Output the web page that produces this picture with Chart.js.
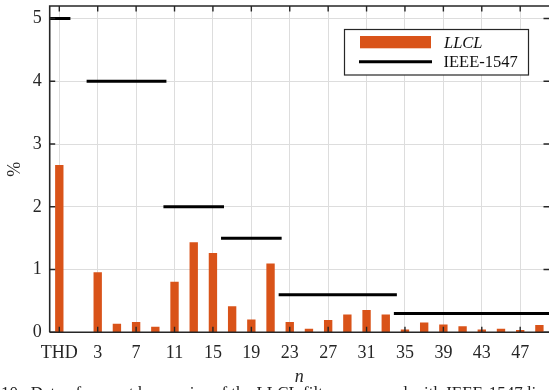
<!DOCTYPE html>
<html><head><meta charset="utf-8">
<script src="https://cdn.jsdelivr.net/npm/chart.js@4.4.1/dist/chart.umd.min.js"></script>
<style>
html,body{margin:0;padding:0;background:#fff;overflow:hidden}
#wrap{position:relative;width:549px;height:390px}
</style></head>
<body><div id="wrap"><canvas id="c" width="549" height="390"></canvas></div>
<script>
// ---- data ----
const seriesName = 'LLCL';
const limitName = 'IEEE-1547';
const thdLabel = 'THD';
const thdPosition = -1;
const thdValue = 2.66;
const harmonicOrders = [3,5,7,9,11,13,15,17,19,21,23,25,27,29,31,33,35,37,39,41,43,45,47,49];
const llclValues = [0.95,0.13,0.16,0.085,0.80,1.43,1.26,0.41,0.20,1.09,0.16,0.05,0.19,0.28,0.35,0.28,0.04,0.15,0.12,0.09,0.04,0.05,0.03,0.11];
const limitLevels = [5,4,2,1.5,0.6,0.3];
const limitFrom = [-2,2,10,16,22,34];
const limitTo = [0,10,16,22,34,50];
const xTickValues = [-1,3,7,11,15,19,23,27,31,35,39,43,47];
const yTickValues = [0,1,2,3,4,5];
const xTitle = 'n';
const yTitle = '%';
const caption = '10.  Data of current harmonics of the LLCL filter compared with IEEE-1547 limits';

// ---- build ----
const barPoints = [{x: thdPosition, y: thdValue}].concat(harmonicOrders.map((h, i) => ({x: h, y: llclValues[i]})));
const limitPoints = [];
limitLevels.forEach((lv, i) => {
  limitPoints.push({x: limitFrom[i], y: lv});
  limitPoints.push({x: limitTo[i], y: lv});
  limitPoints.push({x: limitTo[i], y: null});
});

const FONT = "'Liberation Serif','Times New Roman',serif";
const ORANGE = '#D95319';
const AX = '#262626';

const framePlugin = {
  id: 'frame',
  afterDraw(chart) {
    const {ctx, chartArea: a, scales} = chart;
    const xs = scales.x, ys = scales.y;
    ctx.save();
    ctx.strokeStyle = AX;
    ctx.lineWidth = 1.6;
    ctx.beginPath();
    ctx.moveTo(a.left, a.bottom); ctx.lineTo(a.right + 2, a.bottom);
    ctx.moveTo(a.left, a.bottom); ctx.lineTo(a.left, a.top);
    ctx.lineTo(a.right + 2, a.top);
    ctx.stroke();
    const tl = 5.5;
    ctx.lineWidth = 1.4;
    ctx.beginPath();
    xTickValues.forEach(v => {
      const px = xs.getPixelForValue(v);
      ctx.moveTo(px, a.bottom); ctx.lineTo(px, a.bottom - tl);
      ctx.moveTo(px, a.top); ctx.lineTo(px, a.top + tl);
    });
    yTickValues.forEach(v => {
      const py = ys.getPixelForValue(v);
      ctx.moveTo(a.left, py); ctx.lineTo(a.left + tl, py);
      ctx.moveTo(a.right, py); ctx.lineTo(a.right - tl, py);
    });
    ctx.stroke();

    // legend
    const lx = 344.5, ly = 29.5, lw = 184, lh = 45.5;
    ctx.fillStyle = '#fff';
    ctx.fillRect(lx, ly, lw, lh);
    ctx.lineWidth = 1.2;
    ctx.strokeStyle = AX;
    ctx.strokeRect(lx, ly, lw, lh);
    ctx.fillStyle = ORANGE;
    ctx.fillRect(360, 36, 71, 12.3);
    ctx.strokeStyle = '#000';
    ctx.lineWidth = 3;
    ctx.beginPath(); ctx.moveTo(359, 61.7); ctx.lineTo(432, 61.7); ctx.stroke();
    ctx.fillStyle = '#111';
    ctx.textBaseline = 'alphabetic';
    ctx.textAlign = 'left';
    ctx.font = "italic 16.5px " + FONT;
    ctx.fillText(seriesName, 444, 47.5);
    ctx.font = "16.5px " + FONT;
    ctx.fillText(limitName, 443.5, 67);

    // partially visible caption
    ctx.font = "17px " + FONT;
    ctx.fillStyle = '#222';
    ctx.fillText(caption, 1, 398);
    ctx.restore();
  }
};

new Chart(document.getElementById('c'), {
  data: {
    datasets: [
      {
        type: 'line', label: limitName, data: limitPoints,
        borderColor: '#000', borderWidth: 3, pointRadius: 0, borderCapStyle: 'square',
        spanGaps: false, order: 0, tension: 0
      },
      {
        type: 'bar', label: seriesName, data: barPoints,
        backgroundColor: ORANGE, borderWidth: 0, barThickness: 7.7, grouped: false, order: 1
      }
    ]
  },
  options: {
    responsive: false, animation: false, devicePixelRatio: 1,
    layout: {padding: {left: 0, right: 0, top: 6, bottom: 0}},
    plugins: {legend: {display: false}, tooltip: {enabled: false}},
    scales: {
      x: {
        type: 'linear', position: 'bottom', min: -2, max: 50, offset: false,
        afterBuildTicks: s => { s.ticks = xTickValues.map(v => ({value: v})); },
        afterFit: s => { s.height = 57.7; s.paddingLeft = 0; s.paddingRight = 0; },
        grid: {color: '#dddddd', lineWidth: 1, drawTicks: false, offset: false},
        border: {display: false},
        ticks: {
          autoSkip: false, maxRotation: 0, padding: 10, color: AX,
          font: {family: FONT, size: 18},
          callback: v => v === thdPosition ? thdLabel : String(v)
        },
        title: {display: true, text: xTitle, color: AX, font: {family: FONT, size: 18, style: 'italic'}, padding: {top: 0, bottom: 1.5}}
      },
      y: {
        type: 'linear', position: 'left', min: 0, max: 5.2,
        afterBuildTicks: s => { s.ticks = yTickValues.map(v => ({value: v})); },
        afterFit: s => { s.width = 49.7; s.paddingTop = 0; s.paddingBottom = 0; },
        grid: {color: '#dddddd', lineWidth: 1, drawTicks: false},
        border: {display: false},
        ticks: {padding: 8, color: AX, font: {family: FONT, size: 18}},
        title: {display: true, text: yTitle, color: AX, font: {family: FONT, size: 18}, padding: {top: 4.2, bottom: 0}}
      }
    }
  },
  plugins: [framePlugin]
});
</script>
</body></html>
